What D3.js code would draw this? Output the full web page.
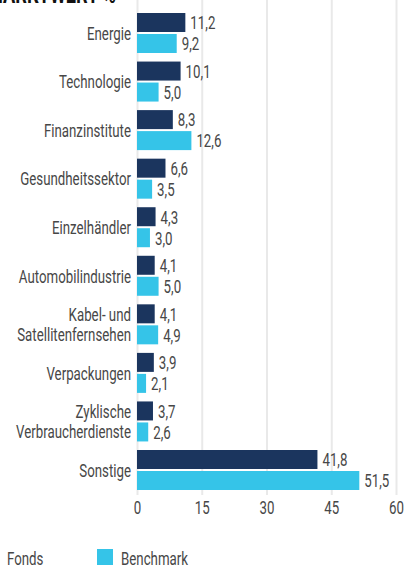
<!DOCTYPE html>
<html>
<head>
<meta charset="utf-8">
<script src="https://cdn.jsdelivr.net/npm/d3@7"></script>
<style>
  body { margin: 0; background: #fff; overflow: hidden; }
  svg text { font-family: Roboto, "Noto Sans", sans-serif; font-weight: 400; }
</style>
</head>
<body>
<div id="chart"></div>
<script>
// Sector weights (%), fund vs benchmark
const categories = [
    ["Energie"],
    ["Technologie"],
    ["Finanzinstitute"],
    ["Gesundheitssektor"],
    ["Einzelhändler"],
    ["Automobilindustrie"],
    ["Kabel- und", "Satellitenfernsehen"],
    ["Verpackungen"],
    ["Zyklische", "Verbraucherdienste"],
    ["Sonstige"]
];
const fonds = [11.2, 10.1, 8.3, 6.6, 4.3, 4.1, 4.1, 3.9, 3.7, 41.8];
const benchmark = [9.2, 5.0, 12.6, 3.5, 3.0, 5.0, 4.9, 2.1, 2.6, 51.5];
const series = ["Fonds", "Benchmark"];
const tickValues = [0, 15, 30, 45, 60];

const COLORS = { Fonds: "#1b355e", Benchmark: "#35c4e8" };
const TEXT = "#474747";
const SQUEEZE = 0.7; // fake a condensed face
const fmt = v => d3.format(".1f")(v).replace(".", ",");

// squeeze a text horizontally around its own x anchor
function condense(sel) {
    sel.each(function () {
        const ax = +this.getAttribute("x") || 0;
        this.setAttribute("transform", `translate(${ax},0) scale(${SQUEEZE},1) translate(${-ax},0)`);
    });
}

const width = 404, height = 565;
const svg = d3.select("#chart").append("svg")
    .attr("width", width)
    .attr("height", height);

const keys = categories.map(c => c.join(" "));
const rows = keys.map((k, i) => ({ key: k, lines: categories[i], Fonds: fonds[i], Benchmark: benchmark[i] }));

const x = d3.scaleLinear().domain([0, 60]).range([137, 396]);
const y = d3.scaleBand().domain(keys).range([13, 490]).paddingInner(0.1762).paddingOuter(0);
const ySub = d3.scaleBand().domain(series).range([0, y.bandwidth()]).paddingInner(0.0952);

// gridlines + tick labels
const axis = svg.append("g")
    .attr("transform", "translate(0,495)")
    .call(d3.axisBottom(x).tickValues(tickValues).tickSize(-495).tickPadding(6).tickFormat(d => d));
axis.select(".domain").remove();
axis.selectAll("line").attr("stroke", "#e9e9e9").attr("stroke-width", 2);
axis.selectAll("text").attr("fill", TEXT).style("font-size", "19px").call(condense);

// bars
const groups = svg.selectAll("g.row")
    .data(rows)
    .join("g")
    .attr("class", "row")
    .attr("transform", d => `translate(0,${y(d.key)})`);

groups.selectAll("rect")
    .data(d => series.map(s => ({ s, v: d[s] })))
    .join("rect")
    .attr("x", x(0))
    .attr("y", d => ySub(d.s))
    .attr("width", d => x(d.v) - x(0))
    .attr("height", ySub.bandwidth())
    .attr("fill", d => COLORS[d.s]);

groups.selectAll("text.val")
    .data(d => series.map(s => ({ s, v: d[s] })))
    .join("text")
    .attr("class", "val")
    .attr("x", d => x(d.v) + 5)
    .attr("y", d => ySub(d.s) + ySub.bandwidth() / 2)
    .attr("dy", "0.36em")
    .attr("fill", TEXT)
    .style("font-size", "19px")
    .text(d => fmt(d.v))
    .call(condense);

// category labels
groups.append("text")
    .attr("class", "cat")
    .attr("x", 131)
    .attr("y", y.bandwidth() / 2)
    .attr("text-anchor", "end")
    .attr("fill", TEXT)
    .style("font-size", "19px")
    .each(function (d) {
        const n = d.lines.length;
        d3.select(this).selectAll("tspan")
            .data(d.lines)
            .join("tspan")
            .attr("x", 131)
            .attr("dy", (l, i) => i === 0 ? `${0.36 - (n - 1) * 0.52}em` : "1.04em")
            .text(l => l);
    })
    .call(condense);

// title (cropped at top)
svg.append("text")
    .attr("x", 116)
    .attr("y", 3)
    .attr("text-anchor", "end")
    .attr("fill", "#111")
    .style("font-size", "26px")
    .style("font-weight", "bold")
    .text("MARKTWERT %")
    .call(condense);

// legend
const legend = svg.append("g").attr("transform", "translate(-17,549)");
const item = legend.selectAll("g")
    .data(series)
    .join("g")
    .attr("transform", (d, i) => `translate(${i * 114},0)`);
item.append("rect")
    .attr("width", 16).attr("height", 16)
    .attr("fill", d => COLORS[d]);
item.append("text")
    .attr("x", 24)
    .attr("y", 9)
    .attr("dy", "0.36em")
    .attr("fill", TEXT)
    .style("font-size", "19px")
    .text(d => d)
    .call(condense);
</script>
</body>
</html>
